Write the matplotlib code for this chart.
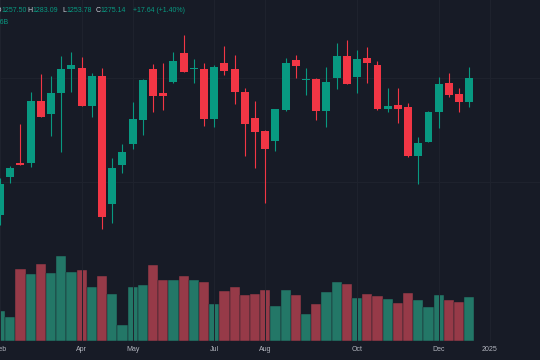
import pandas as pd
import matplotlib.pyplot as plt

# Weekly OHLC (Feb 2024 - Dec 2024) and volume in millions
opens = [1176.7, 1203.7, 1214.2, 1214.2, 1258.6, 1248.9, 1264.0, 1281.4, 1282.1, 1255.1,
         1276.0, 1184.6, 1212.3, 1227.4, 1244.8, 1281.4, 1264.0, 1271.8, 1292.6, 1281.4,
         1281.2, 1245.3, 1285.9, 1281.2, 1265.1, 1246.5, 1237.1, 1230.0, 1252.0, 1287.8,
         1273.5, 1274.0, 1251.1, 1275.1, 1290.7, 1275.6, 1289.1, 1284.0, 1252.5, 1255.2,
         1254.1, 1218.8, 1229.3, 1250.8, 1271.6, 1263.7, 1257.50]
highs = [1203.2, 1211.5, 1241.7, 1265.1, 1277.6, 1276.6, 1290.7, 1293.8, 1289.8, 1278.3,
         1282.1, 1217.6, 1227.4, 1257.4, 1274.2, 1285.3, 1285.5, 1293.8, 1305.8, 1288.3,
         1285.5, 1284.2, 1298.1, 1291.4, 1267.5, 1258.4, 1237.6, 1252.9, 1289.1, 1291.4,
         1281.9, 1274.6, 1283.0, 1300.2, 1302.2, 1295.0, 1297.4, 1287.3, 1267.5, 1267.5,
         1256.8, 1232.8, 1251.3, 1275.9, 1278.3, 1267.5, 1283.09]
lows = [1169.5, 1199.9, 1212.2, 1211.3, 1247.0, 1233.3, 1222.1, 1265.1, 1254.9, 1246.8,
        1166.4, 1170.7, 1206.6, 1224.0, 1234.1, 1250.8, 1252.0, 1271.0, 1279.2, 1271.1,
        1240.7, 1240.0, 1277.1, 1256.3, 1219.0, 1210.6, 1185.1, 1222.8, 1251.6, 1274.7,
        1262.7, 1244.8, 1239.6, 1266.8, 1270.3, 1264.4, 1271.6, 1252.0, 1250.8, 1242.7,
        1218.3, 1198.9, 1229.0, 1239.3, 1261.1, 1250.5, 1253.78]
closes = [1198.9, 1210.6, 1212.3, 1258.6, 1247.2, 1264.0, 1281.6, 1284.2, 1255.1, 1276.6,
          1175.5, 1210.2, 1221.9, 1245.2, 1273.5, 1262.0, 1262.0, 1287.3, 1279.4, 1282.1,
          1245.3, 1283.0, 1280.2, 1264.7, 1242.2, 1236.4, 1223.8, 1252.5, 1285.5, 1283.5,
          1274.4, 1251.5, 1272.3, 1290.7, 1270.6, 1288.3, 1285.5, 1252.5, 1254.9, 1252.5,
          1218.8, 1228.5, 1250.8, 1270.4, 1262.5, 1257.50, 1275.14]
volumes = [939, 735, 2223, 2086, 2387, 2108, 2635, 2139, 2210, 1665,
           2006, 1457, 505, 1683, 1736, 2365, 1891, 1891, 2015, 1882,
           1838, 1156, 1559, 1683, 1417, 1466, 1572, 1076, 1590, 1435,
           837, 1147, 1510, 1820, 1776, 1333, 1457, 1386, 1311, 1178,
           1488, 1262, 1045, 1417, 1280, 1209, 1362]

tick_dates = ["2024-02-05", "2024-04-01", "2024-05-06", "2024-07-01",
              "2024-08-05", "2024-10-07", "2024-12-02", "2025-01-06"]
tick_labels = ["Feb", "Apr", "May", "Jul", "Aug", "Oct", "Dec", "2025"]

BG = "#171b26"
GRID = "#1f232e"
UP, DOWN = "#089981", "#f23645"
UP_VOL, DOWN_VOL = "#237767", "#963a48"
TXT = "#b2b5be"
FONT = "Liberation Sans"

dates = pd.date_range(tick_dates[0], periods=len(closes), freq="W-MON")
x = list(range(len(closes)))
up = [c >= o for o, c in zip(opens, closes)]

fig = plt.figure(figsize=(5.4, 3.6), dpi=100, facecolor=BG)
ax = fig.add_axes([0, 19 / 360, 1, 341 / 360])
axv = ax.twinx()
ax.set_zorder(axv.get_zorder() + 1)
ax.patch.set_visible(False)
axv.set_facecolor(BG)

# volume overlay
axv.bar(x, volumes, width=1.0, color=[UP_VOL if u else DOWN_VOL for u in up],
        edgecolor=BG, linewidth=0.3)
axv.set_ylim(0, max(volumes) * 4.01)
axv.set_yticks([])

# candles
cols = [UP if u else DOWN for u in up]
ax.vlines(x, lows, highs, colors=cols, linewidth=0.8)
bottoms = [min(o, c) for o, c in zip(opens, closes)]
heights = [max(abs(c - o), 0.7) for o, c in zip(opens, closes)]
ax.bar(x, heights, bottom=bottoms, width=0.78, color=cols, linewidth=0)

ax.set_xlim(0.42, 52.93)
ax.set_ylim(1086.3, 1330.85)

ticks = [(pd.Timestamp(d) - dates[0]).days / 7 for d in tick_dates]
ax.set_xticks(ticks, tick_labels)
ax.set_yticks([1200, 1275])
ax.tick_params(axis="x", length=0, pad=3.5, labelsize=5.0, labelcolor=TXT)
ax.tick_params(axis="y", length=0, labelleft=False)
for lab in ax.get_xticklabels():
    lab.set_fontfamily(FONT)
ax.grid(True, color=GRID, linewidth=0.7)
ax.set_axisbelow(True)
for s in list(ax.spines.values()) + list(axv.spines.values()):
    s.set_visible(False)

# legend header (clipped at the left edge like the screenshot)
chg = closes[-1] - closes[-2]
pct = chg / closes[-2] * 100
head = [(1.5, "O", f"{opens[-1]:.2f}"), (32.7, "H", f"{highs[-1]:.2f}"),
        (66.7, "L", f"{lows[-1]:.2f}"), (100.7, "C", f"{closes[-1]:.2f}")]
ty = 1 - 10.5 / 360
for px, letter, val in head:
    fig.text((px - 0.4) / 540, ty, letter, color="#d1d4dc", fontsize=5.0,
             family=FONT, va="center", ha="right")
    fig.text(px / 540, ty, val, color=UP, fontsize=5.0,
             family=FONT, va="center", ha="left")
fig.text(132.7 / 540, ty, f"{chg:+.2f} ({pct:+.2f}%)", color=UP, fontsize=5.0,
         family=FONT, va="center", ha="left")
fig.text(8.5 / 540, 1 - 23 / 360, f"Vol {volumes[-1] / 1000:.2f}B", color=UP,
         fontsize=5.0, family=FONT, va="center", ha="right")

fig.savefig("out.png", dpi=100, facecolor=BG)
